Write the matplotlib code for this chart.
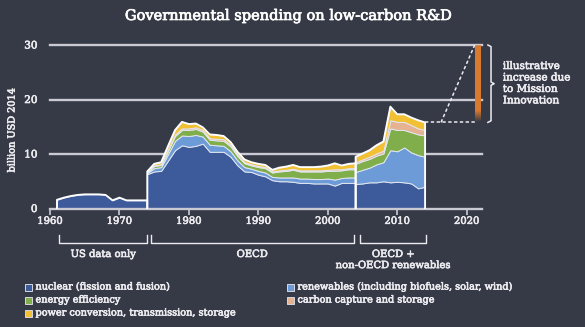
import numpy as np
import matplotlib.pyplot as plt
import matplotlib.patheffects as pe
from matplotlib.patches import Rectangle
from matplotlib.colors import to_rgb

# US federal spending only (billion USD 2014)
us_years = list(range(1961, 1975))
us_total = [1.6, 2.0, 2.3, 2.5, 2.6, 2.6, 2.6, 2.5, 1.5, 2.0, 1.5, 1.5, 1.5, 1.5]

# OECD spending by technology
oecd_years = list(range(1974, 2005))
oecd_nuclear = [6.3, 6.8, 6.9, 8.8, 10.7, 11.6, 11.3, 11.5, 11.9, 10.4, 10.4,
                10.4, 9.5, 7.9, 6.8, 6.7, 6.2, 5.9, 5.2, 5.0, 5.0, 4.9, 4.7,
                4.7, 4.6, 4.6, 4.6, 4.2, 4.7, 4.7, 4.7]
oecd_renewables = [0.2, 0.6, 0.7, 1.2, 1.7, 1.8, 2.0, 2.0, 1.3, 1.3, 1.2, 1.1,
                   1.0, 0.9, 0.8, 0.6, 0.7, 0.7, 0.6, 0.7, 0.7, 0.8, 0.8, 0.8,
                   0.8, 0.8, 0.9, 1.1, 0.9, 1.0, 1.0]
oecd_efficiency = [0.1, 0.4, 0.4, 0.6, 0.9, 1.0, 1.1, 1.1, 0.9, 0.9, 0.9, 0.9,
                   0.9, 0.8, 0.7, 0.6, 0.7, 0.8, 0.8, 1.1, 1.2, 1.4, 1.3, 1.3,
                   1.4, 1.4, 1.4, 1.6, 1.4, 1.5, 1.5]
oecd_ccs = [0.05, 0.1, 0.1, 0.2, 0.3, 0.3, 0.3, 0.3, 0.3, 0.3, 0.3, 0.3, 0.3,
            0.3, 0.2, 0.2, 0.2, 0.2, 0.2, 0.2, 0.2, 0.2, 0.2, 0.2, 0.2, 0.2,
            0.2, 0.3, 0.2, 0.2, 0.2]
oecd_power = [0.15, 0.3, 0.4, 0.7, 0.8, 1.2, 0.8, 0.7, 0.5, 0.7, 0.7, 0.6, 0.5,
              0.5, 0.5, 0.4, 0.4, 0.4, 0.3, 0.5, 0.6, 0.7, 0.6, 0.6, 0.6, 0.7,
              0.8, 1.1, 0.7, 0.8, 0.9]

# OECD plus non-OECD renewables
glob_years = list(range(2004, 2015))
glob_nuclear = [4.5, 4.6, 4.8, 4.8, 5.0, 4.8, 4.9, 4.8, 4.6, 3.7, 4.0]
glob_renewables = [2.2, 2.5, 2.7, 3.3, 3.5, 5.9, 5.6, 6.4, 5.7, 6.1, 5.5]
glob_efficiency = [1.5, 1.6, 1.6, 1.6, 1.6, 4.0, 3.9, 3.2, 3.7, 3.8, 3.9]
glob_ccs = [0.3, 0.3, 0.4, 0.4, 0.5, 1.5, 1.5, 1.5, 1.3, 1.1, 1.0]
glob_power = [1.0, 1.1, 1.2, 1.5, 1.7, 2.5, 1.4, 1.4, 1.4, 1.5, 1.4]

# Mission Innovation: doubling target
mission_year = 2021.2
mission_target = 30

labels = [
    "nuclear (fission and fusion)",
    "renewables (including biofuels, solar, wind)",
    "energy efficiency",
    "carbon capture and storage",
    "power conversion, transmission, storage",
]
colors = ["#3d5a9b", "#6d9bd8", "#7fae4b", "#e5b292", "#f2c133"]

bg = "#363946"
fg = "#ececf0"
grid = "#cacbd2"

plt.rcParams["font.family"] = ["DejaVu Serif"]
heavy = [pe.withStroke(linewidth=0.45, foreground=fg)]

fig = plt.figure(figsize=(5.85, 3.27), dpi=100, facecolor=bg)
ax = fig.add_axes([50 / 585, 1 - 208.5 / 327, 432 / 585, 163.5 / 327])
ax.set_facecolor(bg)

for y in [10, 20, 30]:
    ax.axhline(y, color=grid, lw=1.7, zorder=0, clip_on=False)


def draw_segment(years, layers, cols):
    ax.stackplot(years, *layers, colors=cols, edgecolor="#e3e7f0",
                 linewidth=0.7, zorder=2)
    total = np.sum(np.array(layers), axis=0)
    xs = [years[0]] + list(years) + [years[-1]]
    ys = [0] + list(total) + [0]
    ax.plot(xs, ys, color="white", lw=1.3, zorder=3)
    return total


draw_segment(us_years, [us_total], [colors[0]])
draw_segment(oecd_years, [oecd_nuclear, oecd_renewables, oecd_efficiency,
                          oecd_ccs, oecd_power], colors)
glob_total = draw_segment(glob_years, [glob_nuclear, glob_renewables,
                                       glob_efficiency, glob_ccs, glob_power],
                          colors)

# illustrative increase up to the Mission Innovation target
base = glob_total[-1]
n = 200
alpha = np.ones(n)
fade = int(n * 0.15)
alpha[:fade] = np.linspace(0, 1, fade)
top_fade = int(n * 0.04)
alpha[-top_fade:] = np.linspace(1, 0.6, top_fade)
grad = np.zeros((n, 1, 4))
grad[:, 0, :3] = to_rgb("#d97a2f")
grad[:, 0, 3] = alpha
ax.imshow(grad, extent=[mission_year, mission_year + 0.8, base, mission_target],
          origin="lower", aspect="auto", zorder=4, interpolation="bilinear")
ax.set_xlim(1960, 2022.2)
ax.set_ylim(0, 30)

ax.plot([glob_years[-1], mission_year], [base, base], color=fg, lw=1.1,
        ls=(0, (2.2, 1.6)), zorder=4)
ax.plot([2016.3, mission_year - 0.05], [base, mission_target], color=fg,
        lw=1.1, ls=(0, (2.2, 1.6)), zorder=4)

# curly brace beside the bar
mid = (base + mission_target) / 2
bx = 2023.5
ax.plot([bx - 0.45, bx, bx, bx + 0.45, bx, bx, bx - 0.45],
        [mission_target, mission_target - 0.3, mid + 0.3, mid, mid - 0.3,
         base + 0.3, base], color=fg, lw=1.1, clip_on=False)
ax.text(bx + 1.7, mid, "illustrative\nincrease due\nto Mission\nInnovation",
        color=fg, fontsize=7.5, ha="left", va="center", linespacing=1.35,
        path_effects=heavy)

# axes styling
for side in ["top", "right", "left"]:
    ax.spines[side].set_visible(False)
ax.spines["bottom"].set_color(grid)
ax.spines["bottom"].set_linewidth(1.7)
ax.set_xticks(range(1960, 2021, 10))
ax.set_yticks([0, 10, 20, 30])
ax.tick_params(axis="x", colors=grid, length=4, width=1.2, pad=2,
               labelsize=7.2, labelcolor=fg)
ax.tick_params(axis="y", length=0, pad=9, labelsize=7.5, labelcolor=fg)
for lab in ax.get_xticklabels() + ax.get_yticklabels():
    lab.set_path_effects(heavy)
fig.text(12 / 585, 1 - 130 / 327, "billion USD 2014", rotation=90,
         ha="center", va="center", color=fg, fontsize=7, path_effects=heavy)

fig.text(0.494, 1 - 16 / 327, "Governmental spending on low-carbon R&D",
         ha="center", va="center", color="white", fontsize=10.5,
         path_effects=[pe.withStroke(linewidth=0.5, foreground="white")])

# brackets for data coverage
trans = ax.get_xaxis_transform()
spans = [
    (1961.3, 1974.0, "US data only"),
    (1974.5, 2003.7, "OECD"),
    (2004.6, 2014.2, "OECD +\nnon-OECD renewables"),
]
y_hi = (208.5 - 235) / 163.5
y_lo = (208.5 - 243) / 163.5
for x0, x1, txt in spans:
    ax.plot([x0, x0, x1, x1], [y_hi, y_lo, y_lo, y_hi], color=fg, lw=1.0,
            transform=trans, clip_on=False)
    ax.text((x0 + x1) / 2, (208.5 - 250) / 163.5, txt, transform=trans,
            ha="center", va="top", color=fg, fontsize=7.2, linespacing=1.3,
            path_effects=heavy)

# legend
legend_pos = [(25, 287), (287, 287), (25, 300), (287, 300), (25, 313)]
for (px, py), lab, col in zip(legend_pos, labels, colors):
    fig.add_artist(Rectangle((px / 585, 1 - (py + 3.5) / 327), 7 / 585, 7 / 327,
                             transform=fig.transFigure, facecolor=col,
                             edgecolor="#d6d8de", lw=0.7))
    fig.text((px + 10.5) / 585, 1 - py / 327, lab, ha="left", va="center",
             color=fg, fontsize=7, path_effects=heavy)

fig.savefig("out.png", dpi=100, facecolor=bg)
